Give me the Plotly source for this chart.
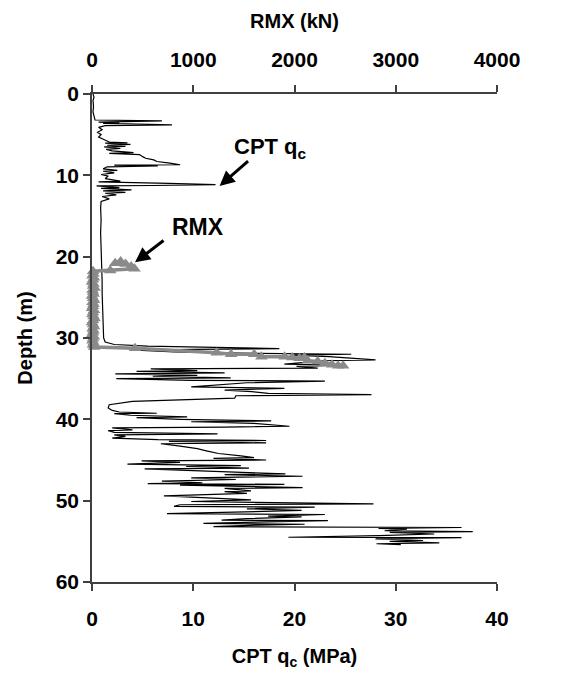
import plotly.graph_objects as go

# ---------------- data ----------------
cpt_depth = [0.0, 0.4, 0.8, 1.5, 2.2, 2.8, 3.2, 3.3, 3.35, 3.4, 3.45, 3.55, 3.6, 3.8, 3.9,
             4.1, 4.4, 4.7, 5.0, 5.3, 5.6, 5.9, 6.0, 6.05, 6.2, 6.3, 6.45, 6.5, 6.7, 6.8,
             7.0, 7.2, 7.3, 7.45, 7.7, 7.9, 8.1, 8.3, 8.5, 8.7, 8.75, 8.85, 8.95, 9.2, 9.4,
             9.5, 9.7, 9.9, 10.1, 10.4, 10.7, 10.8, 11.0, 11.15, 11.25, 11.3, 11.5, 11.6,
             11.8, 11.9, 12.1, 12.2, 12.4, 12.6, 12.9, 13.2, 14.0, 15.5, 17.0, 18.5, 20.0,
             21.5, 23.0, 24.5, 26.0, 27.5, 29.0, 30.0, 30.5, 30.8, 31.0, 31.15, 31.25, 31.3,
             31.4, 31.5, 31.7, 31.9, 32.0, 32.1, 32.3, 32.5, 32.7, 32.8, 33.0, 33.2, 33.35,
             33.5, 33.7, 33.8, 34.0, 34.1, 34.3, 34.4, 34.6, 34.7, 34.9, 35.0, 35.2, 35.3,
             35.5, 35.8, 36.0, 36.2, 36.4, 36.6, 36.8, 36.95, 37.1, 37.4, 37.6, 37.8, 38.2,
             38.6, 38.9, 39.1, 39.25, 39.3, 39.5, 39.7, 39.8, 40.0, 40.2, 40.3, 40.5, 40.7,
             40.85, 40.95, 41.05, 41.3, 41.4, 41.6, 41.8, 41.9, 42.1, 42.3, 42.5, 42.6, 42.7,
             42.9, 43.0, 43.3, 43.6, 43.9, 44.2, 44.5, 44.7, 44.8, 45.0, 45.1, 45.3, 45.5,
             45.7, 45.8, 46.0, 46.1, 46.3, 46.5, 46.7, 46.8, 47.0, 47.2, 47.4, 47.6, 47.8,
             47.9, 48.0, 48.1, 48.4, 48.5, 48.8, 48.9, 49.1, 49.4, 49.6, 49.9, 50.1, 50.4,
             50.5, 50.7, 50.8, 51.0, 51.2, 51.3, 51.6, 51.7, 51.9, 52.0, 52.2, 52.4, 52.45,
             52.6, 52.8, 52.9, 53.0, 53.2, 53.3, 53.4, 53.5, 53.7, 53.8, 53.9, 54.1, 54.3,
             54.5, 54.55, 54.7, 54.9, 55.0, 55.2, 55.3, 55.4]
cpt_qc = [0.1, 0.2, 0.1, 0.15, 0.1, 0.2, 0.3, 6.9, 1.6, 3.8, 0.65, 2.7, 1.1, 7.9, 1.3,
          0.65, 1.0, 0.55, 0.9, 0.65, 1.1, 1.7, 3.5, 1.3, 3.8, 1.5, 3.3, 1.2, 2.8, 1.4,
          2.0, 4.1, 1.7, 4.7, 5.0, 5.3, 6.1, 6.4, 7.7, 8.7, 2.2, 6.5, 1.5, 1.1, 2.5,
          1.1, 2.2, 0.9, 1.6, 1.3, 2.8, 0.65, 7.6, 12.2, 6.0, 0.45, 2.7, 0.9,
          3.9, 1.1, 3.3, 1.3, 2.4, 1.0, 1.7, 0.9, 0.85, 0.9, 0.85, 0.9, 0.95,
          0.95, 1.0, 1.0, 1.05, 1.05, 1.1, 1.15, 1.3, 2.2, 5.5, 10.9, 16.4, 18.5,
          9.8, 4.4, 8.1, 16.4, 25.6, 19.6, 23.4, 25.6, 28.0, 22.9, 20.7, 19.0, 25.1,
          20.2, 22.3, 5.8, 10.4, 4.4, 13.1, 2.3, 10.4, 6.0, 13.7, 2.4, 9.8, 23.0,
          15.3, 12.0, 9.8, 19.0, 13.1, 15.8, 17.4, 27.6, 14.2, 14.1, 9.0, 4.0, 1.7,
          1.6, 2.0, 2.7, 6.4, 2.2, 3.8, 9.4, 4.4, 8.7, 17.7, 9.8, 16.0, 18.0,
          19.5, 13.1, 2.0, 4.0, 1.6, 2.2, 12.4, 2.2, 3.3, 2.0, 6.5, 17.2, 7.6,
          17.2, 6.8, 8.7, 10.4, 11.4, 12.5, 14.7, 16.0, 12.0, 17.2, 4.9, 8.7, 3.5,
          14.7, 9.3, 15.5, 5.2, 9.8, 15.5, 19.1, 13.1, 20.8, 9.8, 14.2, 6.9, 10.9,
          5.5, 19.0, 8.7, 20.8, 13.1, 15.7, 13.1, 15.3, 7.1, 10.9, 15.7, 9.8, 27.8,
          8.7, 8.1, 22.0, 15.3, 20.7, 16.4, 7.4, 23.0, 17.4, 20.7, 15.3, 12.8, 23.3,
          17.4, 11.0, 21.0, 16.4, 12.0, 36.5, 28.3, 31.1, 28.9, 37.6, 29.4, 33.8, 28.3,
          19.4, 36.5, 28.0, 32.7, 29.4, 34.3, 28.1, 30.5]

rmx_depth = [20.6, 20.8, 20.9, 21.2, 21.5, 21.7, 21.8, 22.1, 22.35, 22.6, 22.85, 23.1,
             23.35, 23.6, 23.85, 24.1, 24.35, 24.6, 24.85, 25.1, 25.35, 25.6, 25.85, 26.1,
             26.35, 26.6, 26.85, 27.1, 27.35, 27.6, 27.85, 28.1, 28.35, 28.6, 28.85, 29.1,
             29.35, 29.6, 29.85, 30.1, 30.35, 30.6, 30.85, 31.1, 31.25, 31.8, 32.0, 32.0,
             32.3, 32.3, 32.4, 32.5, 32.4, 32.8, 32.9, 33.1, 33.3, 33.4, 33.4]
rmx_kN = [283, 229, 332, 387, 420, 180, 10, 15, 5, 20, 10, 0, 15, 10, 25, 5, 10, 15,
          0, 10, 20, 5, 15, 10, 0, 20, 10, 5, 15, 25, 10, 0, 10, 20, 5, 15, 10, 0, 20,
          10, 5, 15, 10, 20, 425, 1232, 1373, 1602, 1673, 1902, 1978, 2049, 2098, 2131,
          2229, 2300, 2371, 2431, 2480]

x_ticks_cpt = [0, 10, 20, 30, 40]
x_ticks_rmx = [0, 1000, 2000, 3000, 4000]
y_ticks = [0, 10, 20, 30, 40, 50, 60]

FONT = "Liberation Sans, Arial, sans-serif"
AX = "#404040"
GREY = "#8a8a8a"

fig = go.Figure()
fig.add_trace(go.Scatter(x=cpt_qc, y=cpt_depth, mode="lines",
                         line=dict(color="black", width=1.2), xaxis="x", yaxis="y",
                         showlegend=False))
fig.add_trace(go.Scatter(x=rmx_kN, y=rmx_depth, mode="lines+markers",
                         line=dict(color=GREY, width=3.5),
                         marker=dict(symbol="triangle-up", size=11, color=GREY),
                         xaxis="x2", yaxis="y", cliponaxis=False, showlegend=False))

tick_font = dict(family=FONT, size=21, color="black", weight="bold")
title_font = dict(family=FONT, size=20, color="black", weight="bold")
note_font = dict(family=FONT, size=22, color="black", weight="bold")
axis_common = dict(showgrid=False, zeroline=False, showline=True, linecolor=AX,
                   linewidth=1.5, ticks="outside", ticklen=7, tickwidth=1.5,
                   tickcolor=AX, tickfont=tick_font)

# the page body adds an 8 px margin, so the figure is sized and offset for it
fig.update_layout(
    width=549, height=668,
    margin=dict(l=84, r=60, t=85, b=89),
    paper_bgcolor="white", plot_bgcolor="white",
    xaxis=dict(range=[0, 40], tickvals=x_ticks_cpt, ticklabelstandoff=10,
               title=dict(text="CPT q<sub>c</sub> (MPa)", font=title_font, standoff=20),
               **axis_common),
    xaxis2=dict(range=[0, 4000], tickvals=x_ticks_rmx, overlaying="x", side="top",
                ticklabelstandoff=10,
                title=dict(text="RMX (kN)", font=title_font, standoff=14),
                **axis_common),
    yaxis=dict(range=[60, 0], tickvals=y_ticks,
               title=dict(text="Depth (m)", font=title_font, standoff=18),
               **axis_common),
    annotations=[
        dict(x=12.6, y=11.3, xref="x", yref="y", text="", showarrow=True,
             ax=30, ay=-26, arrowhead=2, arrowsize=1, arrowwidth=3, arrowcolor="black"),
        dict(x=13.8, y=6.7, xref="x", yref="y", text="CPT q<sub>c</sub>", showarrow=False,
             xanchor="left", yanchor="middle", font=note_font),
        dict(x=4.25, y=20.7, xref="x", yref="y", text="", showarrow=True,
             ax=30, ay=-23, arrowhead=2, arrowsize=1, arrowwidth=3, arrowcolor="black"),
        dict(x=7.7, y=16.4, xref="x", yref="y", text="RMX", showarrow=False,
             xanchor="left", yanchor="middle",
             font=dict(family=FONT, size=23, color="black", weight="bold")),
    ],
)

fig.write_html("out.html")
